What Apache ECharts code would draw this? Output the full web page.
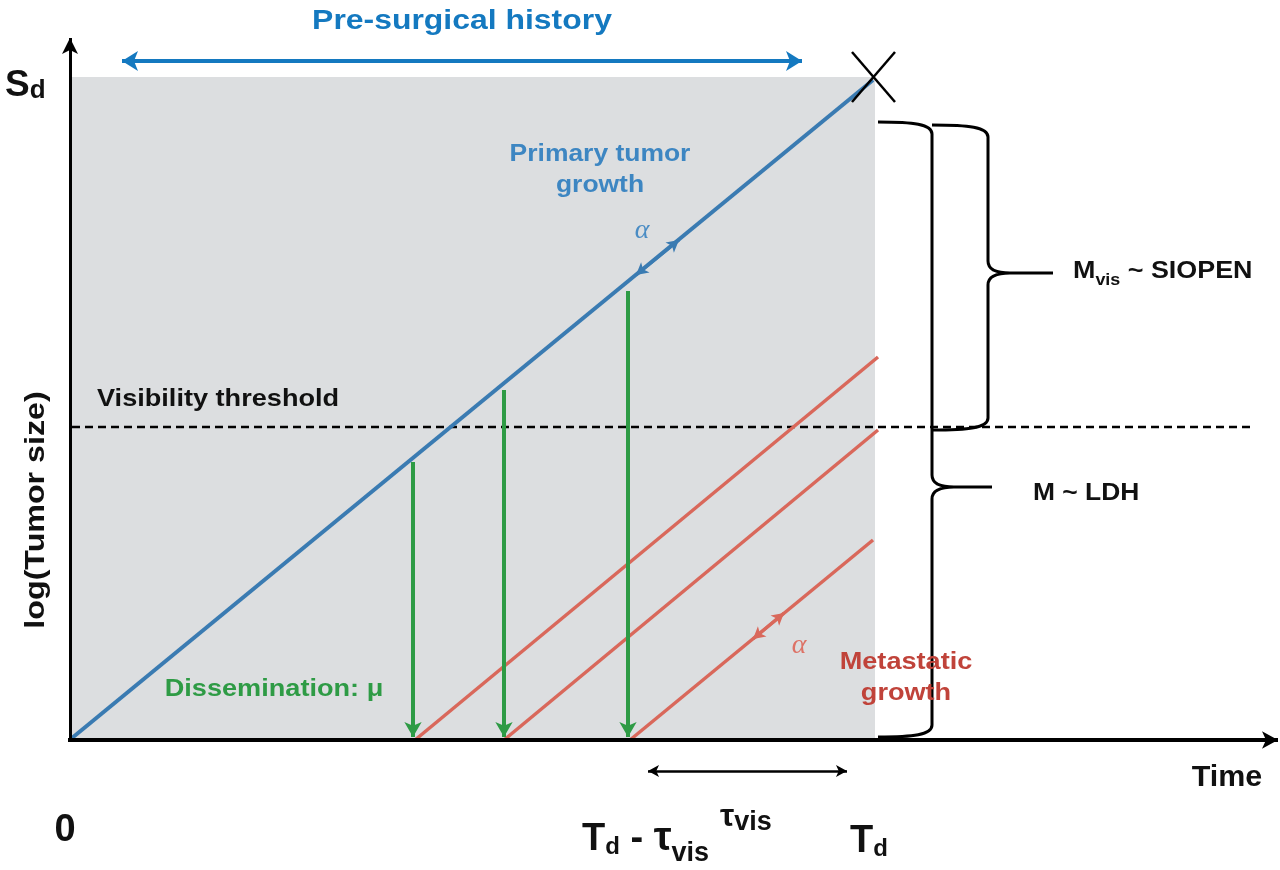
<!DOCTYPE html>
<html>
<head>
<meta charset="utf-8">
<script src="https://cdn.jsdelivr.net/npm/echarts@6/dist/echarts.min.js"></script>
<style>html,body{margin:0;padding:0;background:#fff}#c{width:1280px;height:870px}</style>
</head>
<body>
<div id="c"></div>
<script>
// ---- schematic values (x = time from 0, y = log(tumor size) from the time axis) ----
const surgicalWindow = [[2, 0], [805, 663]];
const primaryTumor = [[2, 2], [803, 660]];
const metastasis1 = [[345, 0], [808, 383]];
const metastasis2 = [[434, 0], [808, 310]];
const metastasis3 = [[560, 0], [803, 200]];
const visibilityThreshold = [[2, 313], [1180, 313]];
const disseminationTimes = [343, 434, 558];
const disseminationTops = [278, 350, 449];
const disseminationBottom = 3;
const yAxisSegment = [[0, -2], [0, 702]];
const xAxisSegment = [[-2, 0], [1208, 0]];
const historyArrow = [[52, 679], [732, 679]];
const tauVisArrow = [[578, -31], [777, -31]];
const alphaPrimaryArrow = [[566, 465], [609, 500]];
const alphaMetaArrow = [[683, 101], [714, 127]];
const surgeryCross = [[[782, 688], [825, 638]], [[825, 688], [782, 638]]];
// braces: [leftX, spineX, tipX, topY, tipY, bottomY]
const braces = [[808, 862, 922, 618, 253, 3], [862, 918, 983, 615, 467, 310]];

// ---- texts ----
const TEXT = {
  history: 'Pre-surgical history',
  primary: 'Primary tumor\ngrowth',
  threshold: 'Visibility threshold',
  yName: 'log(Tumor size)',
  dissemination: 'Dissemination: \u03bc',
  metastatic: 'Metastatic\ngrowth',
  alpha: '\u03b1',
  ldh: 'M ~ LDH',
  siopen: '{a|M}{b|vis}{a| ~ SIOPEN}',
  sd: '{a|S}{b|d}',
  zero: '0',
  time: 'Time',
  tdMinus: '{a|T}{d|d}{a| - }{t|\u03c4}{b|vis}',
  tauVis: '{t|\u03c4}{b|vis}',
  td: '{a|T}{d|d}'
};

const SANS = '"Liberation Sans", Arial, sans-serif';
const SERIF = '"Liberation Serif", "DejaVu Serif", serif';

const annotations = [
  {key:'history', at:[392, 719], size:28, sx:1.14, color:'#1479c0'},
  {key:'primary', at:[530, 570], size:23, sx:1.15, color:'#3d86c2', lh:31},
  {key:'threshold', at:[27, 341], size:24, sx:1.13, color:'#111', align:'left'},
  {key:'yName', at:[-34, 230], size:28, sx:1.15, color:'#111', rot:90},
  {key:'dissemination', at:[204, 51], size:24, sx:1.13, color:'#2e9b45'},
  {key:'metastatic', at:[836, 62], size:24, sx:1.13, color:'#c0433a', lh:31},
  {key:'alpha', at:[572, 509], size:28, color:'#4a8cc4', weight:'italic', family:SERIF},
  {key:'alpha', at:[729, 94], size:28, color:'#dd7266', weight:'italic', family:SERIF},
  {key:'ldh', at:[963, 247], size:24, sx:1.1, color:'#111', align:'left'},
  {key:'siopen', at:[1003, 451], size:24, sx:1.12, color:'#111', align:'left', va:'bottom',
    rich:{a:{fontSize:24, fontWeight:'bold', fontFamily:SANS, padding:[0,0,6,0], verticalAlign:'bottom'},
          b:{fontSize:16, fontWeight:'bold', fontFamily:SANS, verticalAlign:'bottom'}}},
  {key:'sd', at:[-65, 636], size:36, color:'#111', align:'left', va:'bottom',
    rich:{a:{fontSize:37, fontWeight:'bold', fontFamily:SANS, verticalAlign:'bottom'},
          b:{fontSize:26, fontWeight:'bold', fontFamily:SANS, verticalAlign:'bottom'}}},
  {key:'zero', at:[-5, -91], size:38, color:'#111'},
  {key:'time', at:[1157, -38], size:29, sx:1.05, color:'#111'},
  {key:'tdMinus', at:[512, -127], size:38, color:'#111', align:'left', va:'bottom',
    rich:{a:{fontSize:38, fontWeight:'bold', fontFamily:SANS, padding:[0,0,8,0], verticalAlign:'bottom'},
          d:{fontSize:24, fontWeight:'bold', fontFamily:SANS, padding:[0,0,8,0], verticalAlign:'bottom'},
          t:{fontSize:40, fontWeight:'bold', fontFamily:SANS, padding:[0,0,8,0], verticalAlign:'bottom'},
          b:{fontSize:27, fontWeight:'bold', fontFamily:SANS, verticalAlign:'bottom'}}},
  {key:'tauVis', at:[650, -96], size:28, color:'#111', align:'left', va:'bottom',
    rich:{t:{fontSize:32, fontWeight:'bold', fontFamily:SANS, padding:[0,0,3,0], verticalAlign:'bottom'},
          b:{fontSize:27, fontWeight:'bold', fontFamily:SANS, verticalAlign:'bottom'}}},
  {key:'td', at:[780, -121], size:38, color:'#111', align:'left', va:'bottom',
    rich:{a:{fontSize:38, fontWeight:'bold', fontFamily:SANS, verticalAlign:'bottom'},
          d:{fontSize:24, fontWeight:'bold', fontFamily:SANS, verticalAlign:'bottom'}}}
];

const chart = echarts.init(document.getElementById('c'));

const seg = pair => [{coord: pair[0]}, {coord: pair[1]}];
function arrows(name, segments, color, width, symbol, size, z) {
  return {
    type: 'line', name, data: [], z: z || 5, silent: true, animation: false,
    markLine: {
      silent: true, animation: false, symbol, symbolSize: size,
      label: {show: false},
      lineStyle: {color, width, type: 'solid', opacity: 1},
      emphasis: {disabled: true},
      data: segments.map(seg)
    }
  };
}
function straight(name, data, color, width, type, z) {
  return {
    type: 'line', name, data, symbol: 'none', showSymbol: false, silent: true,
    animation: false, z: z || 3,
    lineStyle: {color, width, type: type || 'solid', cap: 'butt'}
  };
}

const option = {
  backgroundColor: '#ffffff',
  animation: false,
  grid: {left: 0, right: 0, top: 0, bottom: 0},
  xAxis: {type: 'value', min: -70, max: 1210, show: false, splitLine: {show: false}},
  yAxis: {type: 'value', min: -130, max: 740, show: false, splitLine: {show: false}},
  series: [
    {
      type: 'line', name: 'window', data: [], z: 0, silent: true,
      markArea: {silent: true, itemStyle: {color: '#dcdee0'}, label: {show: false},
        data: [seg(surgicalWindow)]}
    },
    straight('threshold', visibilityThreshold, '#000', 2.5, [8, 5], 2),
    straight('primary', primaryTumor, '#3a7bb2', 4, 'solid', 3),
    straight('meta1', metastasis1, '#d9685b', 3.5, 'solid', 3),
    straight('meta2', metastasis2, '#d9685b', 3.5, 'solid', 3),
    straight('meta3', metastasis3, '#d9685b', 3.5, 'solid', 3),
    arrows('dissemination',
      disseminationTimes.map((t, i) => [[t, disseminationTops[i]], [t, disseminationBottom]]),
      '#2e9b45', 4, ['none', 'arrow'], [13, 15], 4),
    arrows('alphaP', [alphaPrimaryArrow], '#3a7bb2', 3, ['arrow', 'arrow'], [10, 12], 6),
    arrows('alphaM', [alphaMetaArrow], '#d9685b', 3, ['arrow', 'arrow'], [10, 12], 6),
    arrows('history', [historyArrow], '#1479c0', 4, ['arrow', 'arrow'], [15, 16], 6),
    arrows('tauvis', [tauVisArrow], '#000', 2.5, ['arrow', 'arrow'], [9, 11], 6),
    arrows('cross', surgeryCross, '#000', 2.5, ['none', 'none'], 1, 7),
    arrows('yaxis', [yAxisSegment], '#000', 3, ['none', 'arrow'], [12, 16], 8),
    arrows('xaxis', [xAxisSegment], '#000', 4, ['none', 'arrow'], [13, 16], 8),
    {
      type: 'custom', name: 'braces', data: braces, silent: true, z: 6, animation: false,
      renderItem: function (params, api) {
        const xl = api.value(0), xv = api.value(1), xt = api.value(2);
        const yT = api.value(3), yM = api.value(4), yB = api.value(5);
        const top = api.coord([xl, yT]);
        const vx = api.coord([xv, yT])[0];
        const tip = api.coord([xt, yM]);
        const by = api.coord([xl, yB])[1];
        const ax = top[0], ay = top[1], tx = tip[0], my = tip[1];
        const cx = ax + 0.65 * (vx - ax);
        const d = [
          'M', ax, ay,
          'C', cx, ay, vx, ay + 2, vx, ay + 12,
          'L', vx, my - 12,
          'C', vx, my - 3, vx + 8, my, vx + 22, my,
          'L', tx, my,
          'M', vx + 22, my,
          'C', vx + 8, my, vx, my + 3, vx, my + 12,
          'L', vx, by - 12,
          'C', vx, by - 2, cx, by, ax, by
        ].join(' ');
        return {
          type: 'path',
          shape: {pathData: d},
          style: {stroke: '#000', lineWidth: 3, fill: 'none'}
        };
      }
    }
  ]
};
chart.setOption(option);

const graphics = annotations.map(a => {
  const p = chart.convertToPixel({gridIndex: 0}, a.at);
  const weight = a.weight || 'bold';
  const style = {
    text: TEXT[a.key],
    font: weight + ' ' + a.size + 'px ' + (a.family || SANS),
    fill: a.color,
    align: a.align || 'center',
    verticalAlign: a.va || 'middle'
  };
  if (a.lh) style.lineHeight = a.lh;
  if (a.rich) style.rich = a.rich;
  return {
    type: 'text', x: p[0], y: p[1], silent: true, z: 100,
    rotation: a.rot ? a.rot * Math.PI / 180 : 0,
    scaleX: a.sx || 1, scaleY: 1,
    style
  };
});
chart.setOption({graphic: graphics});
</script>
</body>
</html>
